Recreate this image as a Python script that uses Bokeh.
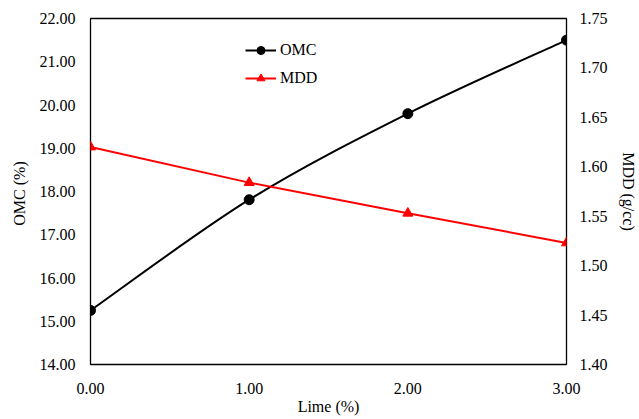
from bokeh.plotting import figure
from bokeh.models import (Range1d, LinearAxis, FixedTicker, NumeralTickFormatter,
                          ColumnDataSource, Legend, LegendItem)
from bokeh.embed import file_html
from bokeh.resources import INLINE

lime = [0.0, 1.0, 2.0, 3.0]
omc = [15.25, 17.81, 19.80, 21.50]
mdd = [1.620, 1.584, 1.553, 1.523]
x_ticks = [0, 1, 2, 3]
left_ticks = [14, 15, 16, 17, 18, 19, 20, 21, 22]
right_ticks = [1.40, 1.45, 1.50, 1.55, 1.60, 1.65, 1.70, 1.75]

FONT = "Liberation Serif"
FS = "16px"

p = figure(width=639, height=419, output_backend="svg", toolbar_location=None,
           x_range=Range1d(0, 3), y_range=Range1d(14, 22),
           min_border_left=90, min_border_right=71, min_border_top=18, min_border_bottom=55)
p.extra_y_ranges = {"mdd": Range1d(1.40, 1.75)}
p.add_layout(LinearAxis(y_range_name="mdd"), "right")

p.xgrid.visible = False
p.ygrid.visible = False
p.outline_line_color = "black"
p.outline_line_width = 1.3
p.background_fill_color = "white"
p.border_fill_color = "white"

for ax in p.axis:
    ax.axis_line_color = None
    ax.major_tick_line_color = None
    ax.minor_tick_line_color = None
    ax.major_tick_in = 0
    ax.major_tick_out = 0
    ax.minor_tick_in = 0
    ax.minor_tick_out = 0
    ax.major_label_text_font = FONT
    ax.major_label_text_font_size = FS
    ax.major_label_text_font_style = "normal"
    ax.major_label_text_color = "black"
    ax.axis_label_text_font = FONT
    ax.axis_label_text_font_size = FS
    ax.axis_label_text_font_style = "normal"
    ax.axis_label_text_color = "black"

p.xaxis.ticker = FixedTicker(ticks=x_ticks)
p.xaxis.formatter = NumeralTickFormatter(format="0.00")
p.xaxis.axis_label = "Lime (%)"
p.xaxis.major_label_standoff = 18
p.xaxis.axis_label_standoff = 1

left = p.yaxis[0]
left.ticker = FixedTicker(ticks=left_ticks)
left.formatter = NumeralTickFormatter(format="0.00")
left.axis_label = "OMC  (%)"
left.major_label_standoff = 15
left.axis_label_standoff = 9

right = p.yaxis[1]
right.ticker = FixedTicker(ticks=right_ticks)
right.formatter = NumeralTickFormatter(format="0.00")
right.axis_label = "MDD (g/cc)"
right.major_label_standoff = 13
right.axis_label_standoff = 9

# smooth (Catmull-Rom style) curve through OMC points, built from the data
n = len(lime)
x0, y0, x1, y1, cx0, cy0, cx1, cy1 = [], [], [], [], [], [], [], []
for i in range(n - 1):
    pm = i - 1 if i > 0 else i
    pp = i + 2 if i + 2 < n else i + 1
    x0.append(lime[i]); y0.append(omc[i])
    x1.append(lime[i + 1]); y1.append(omc[i + 1])
    cx0.append(lime[i] + (lime[i + 1] - lime[pm]) / 6)
    cy0.append(omc[i] + (omc[i + 1] - omc[pm]) / 6)
    cx1.append(lime[i + 1] - (lime[pp] - lime[i]) / 6)
    cy1.append(omc[i + 1] - (omc[pp] - omc[i]) / 6)
bsrc = ColumnDataSource(dict(x0=x0, y0=y0, x1=x1, y1=y1, cx0=cx0, cy0=cy0, cx1=cx1, cy1=cy1))
omc_curve = p.bezier(x0="x0", y0="y0", x1="x1", y1="y1", cx0="cx0", cy0="cy0",
                     cx1="cx1", cy1="cy1", source=bsrc, line_color="black", line_width=2)
omc_pts = p.scatter(lime, omc, marker="circle", size=10, fill_color="black", line_color="black")

mdd_line = p.line(lime, mdd, line_color="#ff0000", line_width=2, y_range_name="mdd")
mdd_pts = p.scatter(lime, mdd, marker="triangle", size=10, fill_color="#ff0000",
                    line_color="#ff0000", y_range_name="mdd")

legend = Legend(items=[LegendItem(label="OMC", renderers=[omc_curve, omc_pts]),
                       LegendItem(label="MDD", renderers=[mdd_line, mdd_pts])],
                location=(155, 276), padding=0, margin=0, spacing=8,
                glyph_width=31, glyph_height=20, label_height=20, label_standoff=4,
                label_text_font=FONT, label_text_font_size=FS, label_text_color="black",
                background_fill_alpha=0, border_line_color=None)
p.add_layout(legend, "center")

open("out.html", "w").write(file_html(p, INLINE))
